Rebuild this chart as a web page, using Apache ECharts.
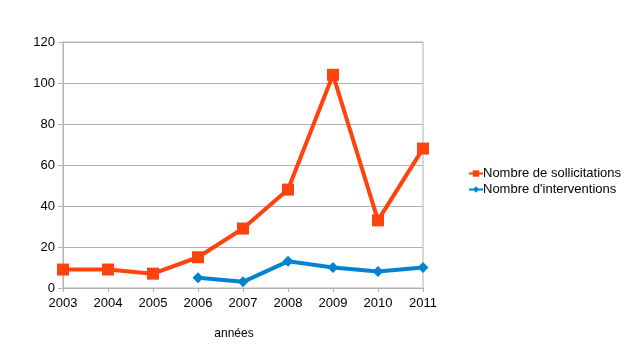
<!DOCTYPE html>
<html><head><meta charset="utf-8">
<script src="https://cdn.jsdelivr.net/npm/echarts@6/dist/echarts.min.js"></script>
<style>html,body{margin:0;padding:0;background:#fff}#c{width:643px;height:361px}</style>
</head><body><div id="c"></div>
<script>
const years = ['2003','2004','2005','2006','2007','2008','2009','2010','2011'];
const sollicitations = [9, 9, 7, 15, 29, 48, 104, 33, 68];
const interventions = [null, null, null, 5, 3, 13, 10, 8, 10];
const yTicks = [0, 20, 40, 60, 80, 100, 120];
const seriesNames = ['Nombre de sollicitations', "Nombre d'interventions"];
const xName = 'années';

const chart = echarts.init(document.getElementById('c'), null, {renderer: 'canvas'});
chart.setOption({
  animation: false,
  backgroundColor: '#ffffff',
  textStyle: {fontFamily: 'Liberation Sans'},
  grid: {left: 63, right: 220, top: 42, bottom: 73, show: true, borderColor: '#b3b3b3', borderWidth: 1, backgroundColor: 'transparent'},
  legend: {
    orient: 'vertical', left: 463, top: 162, itemGap: 3, itemWidth: 14, itemHeight: 8,
    textStyle: {fontSize: 13, color: '#000', fontFamily: 'Liberation Sans', padding: [0,0,0,-5]},
    data: seriesNames
  },
  xAxis: {
    type: 'category', data: years, boundaryGap: false,
    name: xName, nameLocation: 'middle', nameGap: 40,
    nameTextStyle: {fontSize: 12, color: '#000', padding: [0, 18, 0, 0]},
    axisLine: {lineStyle: {color: '#b3b3b3', width: 1}},
    axisTick: {show: true, length: 4, lineStyle: {color: '#b3b3b3'}},
    axisLabel: {fontSize: 13, color: '#000', margin: 9},
    splitLine: {show: false}
  },
  yAxis: {
    type: 'value', min: yTicks[0], max: yTicks[yTicks.length-1], interval: 20,
    axisLine: {show: true, lineStyle: {color: '#b3b3b3', width: 1}},
    axisTick: {show: true, length: 5, lineStyle: {color: '#b3b3b3'}},
    axisLabel: {fontSize: 13, color: '#000', margin: 8},
    splitLine: {lineStyle: {color: '#b3b3b3', width: 1}}
  },
  series: [
    {name: seriesNames[0], type: 'line', data: sollicitations, color: '#ff420e',
     symbol: 'rect', symbolSize: 12, lineStyle: {width: 4}, itemStyle: {color: '#ff420e'}},
    {name: seriesNames[1], type: 'line', data: interventions, color: '#0084d1',
     symbol: 'diamond', symbolSize: 11, lineStyle: {width: 4}, itemStyle: {color: '#0084d1'}}
  ]
});
</script></body></html>
